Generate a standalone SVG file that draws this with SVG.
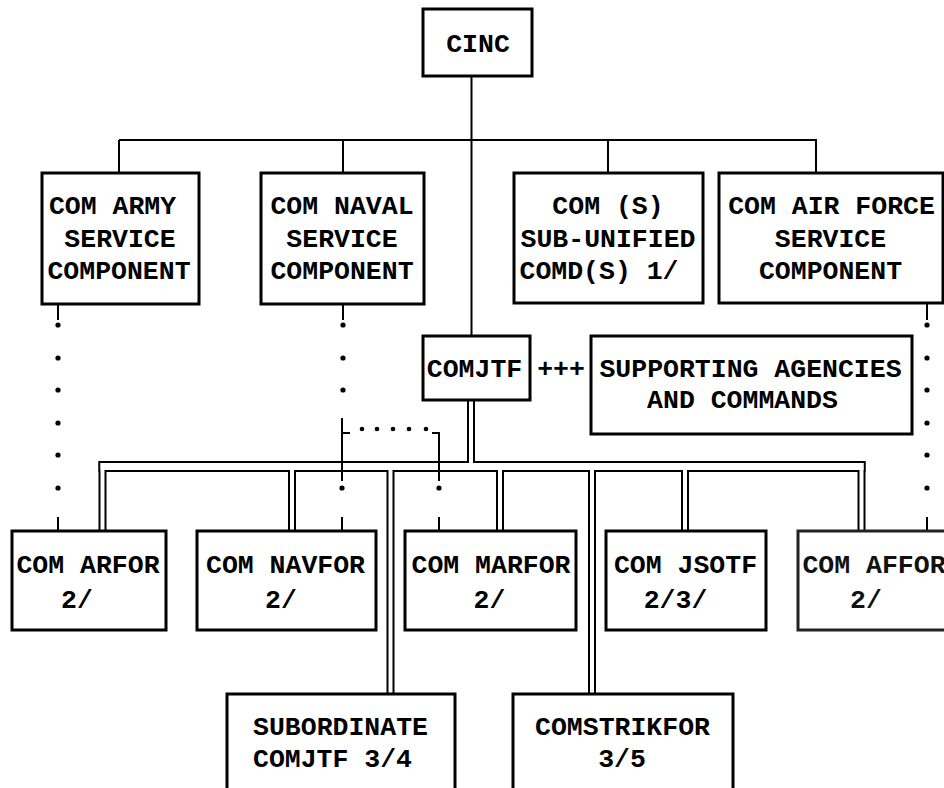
<svg xmlns="http://www.w3.org/2000/svg" width="944" height="788" viewBox="0 0 944 788">
<defs>
<style>
.box{fill:#fff;stroke:#000;stroke-width:3}
.t{font-family:"Liberation Mono","DejaVu Sans Mono",monospace;font-weight:bold;font-size:26.5px;fill:#000;text-anchor:middle}
.ln{stroke:#000;stroke-width:2;fill:none}
.pb{stroke:#000;fill:none}
.pw{stroke:#fff;fill:none}
.dot{fill:#000}
</style>
</defs>
<rect width="944" height="788" fill="#fff"/>
<g id="connectors">
  <line class="ln" x1="471.5" y1="76" x2="471.5" y2="336"/>
  <line class="ln" x1="119" y1="140" x2="817" y2="140"/>
  <line class="ln" x1="119" y1="140" x2="119" y2="173"/>
  <line class="ln" x1="343" y1="140" x2="343" y2="173"/>
  <line class="ln" x1="608" y1="140" x2="608" y2="173"/>
  <line class="ln" x1="816" y1="140" x2="816" y2="173"/>
  <g class="pb">
    <line x1="98.5" y1="466.5" x2="865.5" y2="466.5" stroke-width="11"/>
    <line x1="471" y1="400" x2="471" y2="466.5" stroke-width="8"/>
    <line x1="102.5" y1="461" x2="102.5" y2="531" stroke-width="8"/>
    <line x1="292" y1="461" x2="292" y2="531" stroke-width="8"/>
    <line x1="390.5" y1="461" x2="390.5" y2="694" stroke-width="8"/>
    <line x1="500" y1="461" x2="500" y2="531" stroke-width="8"/>
    <line x1="592" y1="461" x2="592" y2="694" stroke-width="8"/>
    <line x1="685" y1="461" x2="685" y2="531" stroke-width="8"/>
    <line x1="861.5" y1="461" x2="861.5" y2="531" stroke-width="8"/>
  </g>
  <g class="pw">
    <line x1="100.5" y1="466.5" x2="863.5" y2="466.5" stroke-width="7"/>
    <line x1="471" y1="398" x2="471" y2="466.5" stroke-width="4"/>
    <line x1="102.5" y1="463" x2="102.5" y2="533" stroke-width="4"/>
    <line x1="292" y1="463" x2="292" y2="533" stroke-width="4"/>
    <line x1="390.5" y1="463" x2="390.5" y2="696" stroke-width="4"/>
    <line x1="500" y1="463" x2="500" y2="533" stroke-width="4"/>
    <line x1="592" y1="463" x2="592" y2="696" stroke-width="4"/>
    <line x1="685" y1="463" x2="685" y2="533" stroke-width="4"/>
    <line x1="861.5" y1="463" x2="861.5" y2="533" stroke-width="4"/>
  </g>
  <line class="ln" x1="58" y1="304" x2="58" y2="320"/>
  <circle class="dot" cx="58" cy="325" r="2.6"/>
  <circle class="dot" cx="58" cy="358" r="2.6"/>
  <circle class="dot" cx="58" cy="390" r="2.6"/>
  <circle class="dot" cx="58" cy="423" r="2.6"/>
  <circle class="dot" cx="58" cy="455" r="2.6"/>
  <circle class="dot" cx="58" cy="488" r="2.6"/>
  <line class="ln" x1="58" y1="517" x2="58" y2="531"/>
  <line class="ln" x1="343" y1="304" x2="343" y2="320"/>
  <circle class="dot" cx="343" cy="325" r="2.6"/>
  <circle class="dot" cx="343" cy="358" r="2.6"/>
  <circle class="dot" cx="343" cy="390" r="2.6"/>
  <line class="ln" x1="342" y1="418" x2="342" y2="481"/>
  <line class="ln" x1="342" y1="433" x2="350" y2="433"/>
  <circle class="dot" cx="362" cy="429" r="2.3"/>
  <circle class="dot" cx="377" cy="429" r="2.3"/>
  <circle class="dot" cx="393" cy="429" r="2.3"/>
  <circle class="dot" cx="409" cy="429" r="2.3"/>
  <circle class="dot" cx="426" cy="429" r="2.3"/>
  <polyline class="ln" points="432,433 439,433 439,481"/>
  <circle class="dot" cx="342" cy="488" r="2.6"/>
  <circle class="dot" cx="439" cy="488" r="2.6"/>
  <line class="ln" x1="342" y1="517" x2="342" y2="531"/>
  <line class="ln" x1="439" y1="517" x2="439" y2="531"/>
  <line class="ln" x1="927" y1="303" x2="927" y2="320"/>
  <circle class="dot" cx="927" cy="325" r="2.6"/>
  <circle class="dot" cx="927" cy="358" r="2.6"/>
  <circle class="dot" cx="927" cy="390" r="2.6"/>
  <circle class="dot" cx="927" cy="423" r="2.6"/>
  <circle class="dot" cx="927" cy="455" r="2.6"/>
  <circle class="dot" cx="927" cy="488" r="2.6"/>
  <line class="ln" x1="927" y1="517" x2="927" y2="531"/>
</g>
<g id="cinc">
  <rect class="box" x="423" y="9" width="109" height="67"/>
  <text class="t" x="478" y="52">CINC</text>
</g>
<g id="com-army">
  <rect class="box" x="42" y="173" width="157" height="131"/>
  <text class="t" x="112.5" y="214">COM ARMY</text>
  <text class="t" x="120" y="247">SERVICE</text>
  <text class="t" x="119" y="279">COMPONENT</text>
</g>
<g id="com-naval">
  <rect class="box" x="261" y="173" width="163" height="131"/>
  <text class="t" x="342" y="214">COM NAVAL</text>
  <text class="t" x="342" y="247">SERVICE</text>
  <text class="t" x="342" y="279">COMPONENT</text>
</g>
<g id="com-sub-unified">
  <rect class="box" x="514" y="173" width="189" height="130"/>
  <text class="t" x="608" y="214">COM (S)</text>
  <text class="t" x="608" y="247">SUB-UNIFIED</text>
  <text class="t" x="599" y="279">COMD(S) 1/</text>
</g>
<g id="com-air-force">
  <rect class="box" x="719" y="173" width="224" height="130"/>
  <text class="t" x="831.5" y="214">COM AIR FORCE</text>
  <text class="t" x="830.5" y="247">SERVICE</text>
  <text class="t" x="830.5" y="279">COMPONENT</text>
</g>
<g id="comjtf">
  <rect class="box" x="423" y="336" width="107" height="64"/>
  <text class="t" x="474.5" y="377">COMJTF</text>
</g>
<g id="plus-link">
  <text class="t" x="561" y="377">+++</text>
</g>
<g id="supporting">
  <rect class="box" x="591" y="336" width="321" height="98"/>
  <text class="t" x="750.5" y="377">SUPPORTING AGENCIES</text>
  <text class="t" x="742.5" y="408">AND COMMANDS</text>
</g>
<g id="com-arfor">
  <rect class="box" x="12" y="531" width="154" height="99"/>
  <text class="t" x="88" y="573">COM ARFOR</text>
  <text class="t" x="77" y="608">2/</text>
</g>
<g id="com-navfor">
  <rect class="box" x="197" y="531" width="179" height="99"/>
  <text class="t" x="285.5" y="573">COM NAVFOR</text>
  <text class="t" x="281" y="608">2/</text>
</g>
<g id="com-marfor">
  <rect class="box" x="405" y="531" width="171" height="99"/>
  <text class="t" x="491" y="573">COM MARFOR</text>
  <text class="t" x="489.5" y="608">2/</text>
</g>
<g id="com-jsotf">
  <rect class="box" x="606" y="531" width="160" height="99"/>
  <text class="t" x="685.5" y="573">COM JSOTF</text>
  <text class="t" x="675.5" y="608">2/3/</text>
</g>
<g id="com-affor">
  <rect class="box" x="798" y="531" width="170" height="99" style="stroke:#222"/>
  <text class="t" x="874" y="573" style="fill:#111">COM AFFOR</text>
  <text class="t" x="866" y="608" style="fill:#111">2/</text>
</g>
<g id="subordinate-comjtf">
  <rect class="box" x="227" y="694" width="228" height="110"/>
  <text class="t" x="340.5" y="735">SUBORDINATE</text>
  <text class="t" x="332.5" y="767">COMJTF 3/4</text>
</g>
<g id="comstrikfor">
  <rect class="box" x="513" y="694" width="220" height="110"/>
  <text class="t" x="622.5" y="735">COMSTRIKFOR</text>
  <text class="t" x="622" y="767">3/5</text>
</g>
</svg>
